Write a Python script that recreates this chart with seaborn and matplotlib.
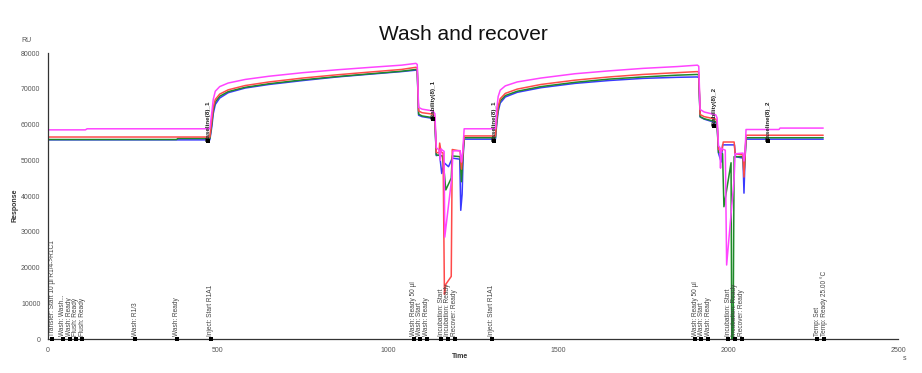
import matplotlib
matplotlib.use("Agg")
import matplotlib.pyplot as plt
import seaborn as sns
import pandas as pd
import numpy as np

# ---------------- data ----------------
mag_t = [0, 110, 115, 476, 482, 486, 492, 505, 530, 580, 650, 750, 850, 950, 1040, 1082,
         1086, 1090, 1100, 1132, 1138, 1142, 1150, 1154, 1156, 1160, 1165, 1167, 1188, 1191,
         1212, 1216, 1220, 1224, 1316, 1320, 1324, 1330, 1345, 1380, 1450, 1550, 1650, 1750,
         1850, 1910, 1914, 1918, 1930, 1964, 1968, 1972, 1976, 1978, 1980, 1992, 1996, 2018,
         2021, 2044, 2047, 2050, 2053, 2150, 2153, 2280]
mag_v = [58500, 58500, 58800, 58800, 63500, 67000, 69300, 70600, 71600, 72600, 73500, 74500,
         75300, 76000, 76600, 77100, 76800, 64800, 64300, 63800, 63000, 53500, 52900, 50000,
         53200, 52800, 52500, 28500, 45500, 52600, 52700, 49500, 52600, 58800, 58800, 64500,
         67800, 69600, 70800, 71900, 73000, 74200, 75000, 75700, 76200, 76600, 76300, 64200,
         63500, 62700, 61800, 54000, 53600, 47800, 53300, 52800, 20700, 44800, 51800, 52000,
         49800, 51800, 58600, 58600, 59000, 59000]

red_t = [0, 476, 482, 486, 492, 505, 530, 580, 650, 750, 850, 950, 1040, 1082, 1086, 1090,
         1100, 1132, 1138, 1142, 1150, 1152, 1156, 1162, 1166, 1170, 1186, 1189, 1212, 1216,
         1220, 1224, 1316, 1320, 1324, 1330, 1345, 1380, 1450, 1550, 1650, 1750, 1850, 1910,
         1914, 1918, 1930, 1964, 1968, 1972, 1982, 1986, 2018, 2021, 2044, 2047, 2050, 2053,
         2280]
red_v = [56500, 56500, 61500, 64800, 67000, 68500, 69700, 70900, 71900, 73000, 73900, 74700,
         75400, 76000, 75800, 63800, 63300, 62900, 62000, 52200, 52000, 54800, 52300, 52000,
         12500, 15300, 17500, 53000, 52600, 47500, 51800, 56800, 56800, 61800, 65000, 67200,
         68700, 69900, 71200, 72400, 73300, 74000, 74500, 74800, 74600, 62800, 62200, 61500,
         60800, 53000, 52600, 55100, 55100, 51800, 51500, 45300, 51000, 57000, 57000]

grn_t = [0, 378, 382, 476, 482, 486, 492, 505, 530, 580, 650, 750, 850, 950, 1040, 1082,
         1086, 1090, 1100, 1132, 1138, 1142, 1160, 1166, 1170, 1186, 1189, 1212, 1216, 1220,
         1224, 1316, 1320, 1324, 1330, 1345, 1380, 1450, 1550, 1650, 1750, 1850, 1910, 1914,
         1918, 1930, 1964, 1968, 1972, 1984, 1988, 2009, 2011, 2015, 2018, 2044, 2047, 2050,
         2053, 2280]
grn_v = [55800, 55800, 56100, 56100, 60500, 64000, 66300, 67900, 69200, 70400, 71400, 72500,
         73400, 74200, 74900, 75400, 75200, 62900, 62400, 61900, 61000, 51500, 51200, 46000,
         41700, 45000, 51200, 51000, 44000, 50800, 56300, 56300, 61200, 64400, 66600, 68100,
         69300, 70600, 71800, 72700, 73300, 73800, 74000, 73800, 62200, 61600, 60800, 60100,
         52200, 51800, 37000, 49300, 0, 0, 51000, 51000, 46000, 50500, 56300, 56300]

blu_t = [0, 476, 482, 486, 492, 505, 530, 580, 650, 750, 850, 950, 1040, 1082, 1086, 1090,
         1100, 1132, 1138, 1142, 1152, 1158, 1165, 1178, 1189, 1211, 1214, 1218, 1221, 1224,
         1316, 1320, 1324, 1330, 1345, 1380, 1450, 1550, 1650, 1750, 1850, 1910, 1914, 1918,
         1930, 1964, 1968, 1972, 1980, 1984, 2019, 2022, 2044, 2047, 2050, 2053, 2280]
blu_v = [55700, 55700, 59500, 63000, 65600, 67400, 68900, 70200, 71200, 72300, 73300, 74100,
         74800, 75200, 75000, 62600, 62200, 61700, 60800, 51300, 51500, 46300, 49300, 48200,
         50600, 50300, 36000, 40500, 51000, 55900, 55900, 60300, 63600, 66000, 67700, 69000,
         70300, 71500, 72300, 72900, 73200, 73300, 73100, 62100, 61500, 60500, 59800, 52000,
         49500, 54300, 54300, 51000, 50600, 40800, 50200, 55900, 55900]

event_t = [12, 44, 64, 82, 100, 256, 379, 479, 1075, 1094, 1114, 1156, 1176, 1197, 1305,
           1903, 1922, 1942, 2000, 2020, 2041, 2262, 2282]
event_lbl = ["Transfer: Start 10 µl R1/4->R1C1", "Wash: Wash...", "Wash: Ready",
             "Flush: Ready", "Flush: Ready", "Wash: R1/3", "Wash: Ready", "Inject: Start R1A1",
             "Wash: Ready 50 µl", "Wash: Start", "Wash: Ready", "Incubation: Start",
             "Incubation: Ready", "Recover: Ready", "Inject: Start R1A1",
             "Wash: Ready 50 µl", "Wash: Start", "Wash: Ready", "Incubation: Start",
             "Incubation: Ready", "Recover: Ready", "Temp: Set", "Temp: Ready 25.00 °C"]

rp_t = [470, 1133, 1312, 1960, 2118]
rp_lbl = ["Baseline(8)_1", "Stability(8)_1", "Baseline(8)_1", "Stability(8)_2", "Baseline(8)_2"]
rp_y = [55500, 61500, 55300, 59700, 55300]

x_ticks = [0, 500, 1000, 1500, 2000, 2500]
y_ticks = [0, 10000, 20000, 30000, 40000, 50000, 60000, 70000, 80000]

series_names = ["Fc1", "Fc2", "Fc3", "Fc4"]
colors = {"Fc1": "#3a3aff", "Fc2": "#1f8a2a", "Fc3": "#ff4a4a", "Fc4": "#ff44ff"}

frames = []
for name, tt, vv in zip(series_names, [blu_t, grn_t, red_t, mag_t], [blu_v, grn_v, red_v, mag_v]):
    frames.append(pd.DataFrame({"Time": tt, "Response": vv, "series": name}))
df = pd.concat(frames, ignore_index=True)

# ---------------- plot ----------------
sns.set_style("white")
plt.rcParams["font.family"] = ["Liberation Sans", "DejaVu Sans"]

fig = plt.figure(figsize=(9.22, 3.73), dpi=100)
ax = fig.add_axes([48 / 922, 1 - 339 / 373, 850 / 922, 286 / 373])

sns.lineplot(data=df, x="Time", y="Response", hue="series", palette=colors,
             estimator=None, sort=False, linewidth=1.1, legend=False, ax=ax)

# event markers along the time axis
ev_df = pd.DataFrame({"Time": event_t, "Response": [0] * len(event_t)})
sns.scatterplot(data=ev_df, x="Time", y="Response", marker="s", s=5, color="black",
                edgecolor="black", linewidth=0, ax=ax, zorder=5, clip_on=False)
for t, lbl in zip(event_t, event_lbl):
    ax.text(t, 900, lbl, rotation=90, ha="center", va="bottom", fontsize=4.7,
            color="#444444", clip_on=False)

# report point clusters
rp_df = pd.DataFrame({"Time": rp_t, "Response": rp_y})
sns.scatterplot(data=rp_df, x="Time", y="Response", marker="s", s=6, color="black",
                linewidth=0, ax=ax, zorder=6)
for t, lbl, yv in zip(rp_t, rp_lbl, rp_y):
    ax.text(t, yv, lbl, rotation=90, ha="center", va="bottom", fontsize=4.5,
            color="#222222", fontweight="bold")

ax.set_xlim(0, 2500)
ax.set_ylim(0, 80000)
ax.set_xticks(x_ticks)
ax.set_xticks([250, 750, 1250, 1750, 2250], minor=True)
ax.set_yticks(y_ticks)
ax.set_xticklabels([str(v) for v in x_ticks], fontsize=5, color="#555555")
ax.set_yticklabels([str(v) for v in y_ticks], fontsize=5, color="#555555")
ax.tick_params(axis="both", which="both", direction="out", length=2.5, width=0.8,
               color="#333333", pad=3)
ax.tick_params(axis="x", which="minor", length=2)
for s in ["top", "right"]:
    ax.spines[s].set_visible(False)
for s in ["left", "bottom"]:
    ax.spines[s].set_color("#333333")
    ax.spines[s].set_linewidth(0.9)
ax.set_xlabel("")
ax.set_ylabel("")
ax.grid(False)

fig.text(15 / 922, 1 - 205 / 373, "Response", rotation=90, ha="center", va="center",
         fontsize=5, fontweight="bold", color="#333333")
fig.text(460 / 922, 1 - 357 / 373, "Time", ha="center", va="center", fontsize=5,
         fontweight="bold", color="#333333")
fig.text(26 / 922, 1 - 41 / 373, "RU", ha="center", va="center", fontsize=5, color="#555555")
fig.text(905 / 922, 1 - 358 / 373, "s", ha="center", va="center", fontsize=5, color="#555555")
fig.text(463 / 922, 1 - 35 / 373, "Wash and recover", ha="center", va="center",
         fontsize=15, color="#111111")

fig.savefig("out.png", dpi=100)
